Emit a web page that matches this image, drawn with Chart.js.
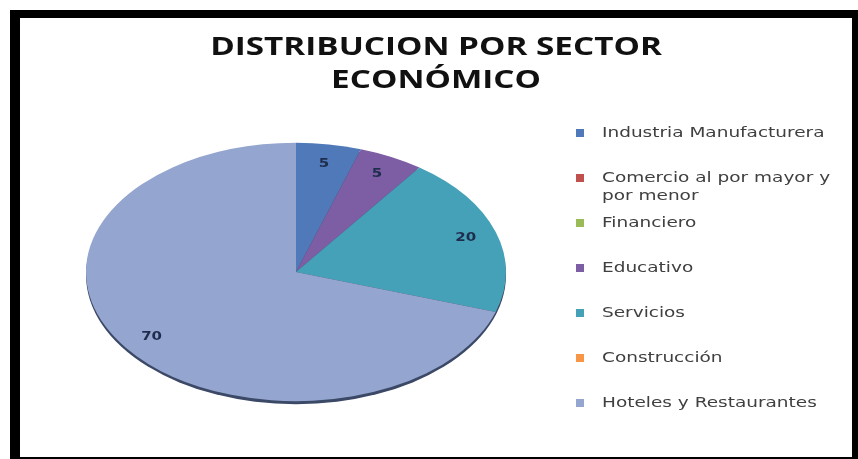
<!DOCTYPE html>
<html>
<head>
<meta charset="utf-8">
<script src="https://cdn.jsdelivr.net/npm/chart.js@4.4.0/dist/chart.umd.min.js"></script>
<style>
    html, body { margin: 0; padding: 0; background: #fff; }
    #wrap { position: relative; width: 858px; height: 459px; overflow: hidden; }
    #wrap canvas { position: absolute; left: 0; top: 0; }
    #frame {
        position: absolute; left: 10px; top: 10px; right: 0; bottom: 0;
        box-sizing: border-box; border-style: solid; border-color: #000;
        border-width: 8px 6px 2px 10px; pointer-events: none;
    }
</style>
</head>
<body>
<div id="wrap">
    <canvas id="sectorChart" width="858" height="459"></canvas>
    <div id="frame"></div>
</div>
<script>
const titleLines = ['DISTRIBUCION POR SECTOR', 'ECONÓMICO'];
const sectores = [
    'Industria Manufacturera',
    ['Comercio al por mayor y', 'por menor'],
    'Financiero',
    'Educativo',
    'Servicios',
    'Construcción',
    'Hoteles y Restaurantes'
];
const valores = [5, 0, 0, 5, 20, 0, 70];
const colores = ['#4f79b8', '#c0504d', '#9bbb59', '#7d5da3', '#45a1b7', '#f79646', '#94a6cf'];

// the source picture is stretched sideways, text gets the same treatment
const pie = { cy: 272, k: 0.615 };

function wideText(ctx, text, x, y, sx) {
    ctx.save();
    ctx.translate(x, y);
    ctx.scale(sx, 1);
    ctx.fillText(text, 0, 0);
    ctx.restore();
}

const decoPlugin = {
    id: 'deco',
    beforeDatasetsDraw(chart) {
        const ctx = chart.ctx;
        const a = chart.chartArea;
        const cx = (a.left + a.right) / 2;
        const mid = (a.top + a.bottom) / 2;
        const r = Math.min(a.width, a.height) / 2;
        ctx.save();
        // dark rim under the tilted pie
        ctx.fillStyle = '#3b4866';
        ctx.beginPath();
        ctx.ellipse(cx, pie.cy + 3, r, r * pie.k, 0, 0, Math.PI * 2);
        ctx.fill();
        ctx.translate(0, pie.cy);
        ctx.scale(1, pie.k);
        ctx.translate(0, -mid);
    },
    afterDatasetsDraw(chart) {
        const ctx = chart.ctx;
        ctx.restore();

        // value labels
        ctx.save();
        ctx.font = 'bold 12px "DejaVu Sans"';
        ctx.fillStyle = '#1f2d4d';
        ctx.textAlign = 'center';
        ctx.textBaseline = 'middle';
        chart.getDatasetMeta(0).data.forEach((arc, i) => {
            if (!valores[i]) return;
            const p = arc.getProps(['startAngle', 'endAngle', 'outerRadius', 'x'], true);
            const m = (p.startAngle + p.endAngle) / 2;
            const rr = p.outerRadius * 0.85;
            wideText(ctx, String(valores[i]), p.x + Math.cos(m) * rr, pie.cy + Math.sin(m) * rr * pie.k, 1.25);
        });

        // title
        ctx.font = 'bold 25px "Open Sans"';
        ctx.fillStyle = '#111';
        ctx.textBaseline = 'alphabetic';
        wideText(ctx, titleLines[0], 436, 55, 1.33);
        wideText(ctx, titleLines[1], 436, 88, 1.33);

        // legend
        ctx.textAlign = 'left';
        ctx.textBaseline = 'middle';
        ctx.font = '14px "DejaVu Sans"';
        sectores.forEach((s, i) => {
            const y = 133 + i * 45;
            ctx.fillStyle = colores[i];
            ctx.fillRect(576, y - 4, 8, 8);
            ctx.fillStyle = '#404040';
            const lines = Array.isArray(s) ? s : [s];
            lines.forEach((t, j) => wideText(ctx, t, 602, y + j * 18, 1.32));
        });
        ctx.restore();
    }
};

new Chart(document.getElementById('sectorChart').getContext('2d'), {
    type: 'pie',
    data: {
        labels: sectores,
        datasets: [{
            data: valores,
            backgroundColor: colores,
            borderWidth: 0
        }]
    },
    options: {
        responsive: false,
        animation: false,
        layout: { padding: { left: 86, right: 352, top: 20, bottom: 19 } },
        plugins: {
            legend: { display: false },
            title: { display: false },
            tooltip: { enabled: false }
        }
    },
    plugins: [decoPlugin]
});
</script>
</body>
</html>
